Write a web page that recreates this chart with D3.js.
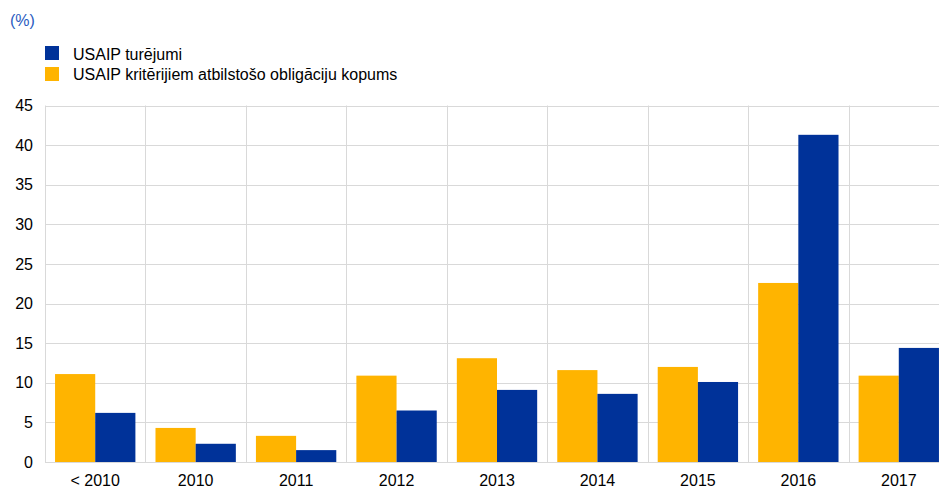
<!DOCTYPE html>
<html>
<head>
<meta charset="utf-8">
<script src="https://cdn.jsdelivr.net/npm/d3@7"></script>
<style>
  html, body { margin: 0; padding: 0; background: #fff; }
  svg { display: block; font-family: "Liberation Sans", Arial, sans-serif; }
</style>
</head>
<body>
<svg id="chart" width="939" height="488"></svg>
<script>
// Categories (issuance years) and the two series, in percent
const categories = ["< 2010", "2010", "2011", "2012", "2013", "2014", "2015", "2016", "2017"];
const eligibleUniverse = [11.1, 4.3, 3.3, 10.9, 13.1, 11.6, 12.0, 22.6, 10.9];
const cspHoldings = [6.2, 2.3, 1.5, 6.5, 9.1, 8.6, 10.1, 41.3, 14.4];
const yTicks = [0, 5, 10, 15, 20, 25, 30, 35, 40, 45];
const seriesNames = ["USAIP turējumi", "USAIP kritērijiem atbilstošo obligāciju kopums"];
const seriesKeys = ["universe", "holdings"];

const colors = { holdings: "#003299", universe: "#FFB400" };
const FONT = 16;

const svg = d3.select("#chart");
const margin = { left: 45, right: -10, top: 105.5, bottom: 26 };
const W = 939, H = 488;

const x = d3.scaleBand()
  .domain(categories)
  .range([margin.left, W - margin.right])
  .paddingInner(0).paddingOuter(0);

const xInner = d3.scaleBand()
  .domain(seriesKeys)
  .range([0, x.bandwidth()])
  .paddingOuter(0.25).paddingInner(0);

const y = d3.scaleLinear()
  .domain([0, 45])
  .range([H - margin.bottom, margin.top]);

// Horizontal gridlines
svg.append("g")
  .selectAll("line")
  .data(yTicks)
  .join("line")
  .attr("x1", margin.left)
  .attr("x2", W)
  .attr("y1", d => Math.round(y(d)) + 0.5)
  .attr("y2", d => Math.round(y(d)) + 0.5)
  .attr("stroke", "#d9d9d9")
  .attr("stroke-width", 1);

// Vertical separators between categories
svg.append("g")
  .selectAll("line")
  .data(categories)
  .join("line")
  .attr("x1", d => Math.round(x(d)) + 0.5)
  .attr("x2", d => Math.round(x(d)) + 0.5)
  .attr("y1", y(45))
  .attr("y2", y(0))
  .attr("stroke", "#d9d9d9")
  .attr("stroke-width", 1);

// Bars
const rows = categories.map((c, i) => ({
  cat: c,
  values: [
    { key: "universe", v: eligibleUniverse[i] },
    { key: "holdings", v: cspHoldings[i] }
  ]
}));

svg.append("g")
  .selectAll("g")
  .data(rows)
  .join("g")
  .attr("transform", d => `translate(${x(d.cat)},0)`)
  .selectAll("rect")
  .data(d => d.values)
  .join("rect")
  .attr("x", d => xInner(d.key))
  .attr("width", xInner.bandwidth())
  .attr("y", d => y(d.v))
  .attr("height", d => y(0) - y(d.v))
  .attr("fill", d => colors[d.key]);

// Y axis labels
const yAxis = d3.axisLeft(y).tickValues(yTicks).tickSize(0).tickPadding(12);
svg.append("g")
  .attr("transform", `translate(${margin.left},0)`)
  .call(yAxis)
  .call(g => g.select(".domain").remove())
  .call(g => g.selectAll("text")
    .attr("font-size", FONT)
    .attr("font-family", "Liberation Sans, Arial, sans-serif")
    .attr("fill", "#000"));

// X axis labels
const xAxis = d3.axisBottom(x).tickSize(0).tickPadding(13);
svg.append("g")
  .attr("transform", `translate(0,${y(0)})`)
  .call(xAxis)
  .call(g => g.select(".domain").remove())
  .call(g => g.selectAll("text")
    .attr("font-size", FONT)
    .attr("font-family", "Liberation Sans, Arial, sans-serif")
    .attr("fill", "#000"));

// Unit label
svg.append("text")
  .attr("x", 10)
  .attr("y", 26)
  .attr("font-size", FONT)
  .attr("fill", "#2a5cbf")
  .text("(%)");

// Legend
const legend = svg.append("g");
const legendItems = [
  { name: seriesNames[0], color: colors.holdings },
  { name: seriesNames[1], color: colors.universe }
];
legend.selectAll("rect")
  .data(legendItems)
  .join("rect")
  .attr("x", 45)
  .attr("y", (d, i) => 46 + i * 21)
  .attr("width", 14)
  .attr("height", 14)
  .attr("fill", d => d.color);
legend.selectAll("text")
  .data(legendItems)
  .join("text")
  .attr("x", 73)
  .attr("y", (d, i) => 59.5 + i * 20.7)
  .attr("font-size", FONT)
  .attr("fill", "#000")
  .text(d => d.name);
</script>
</body>
</html>
